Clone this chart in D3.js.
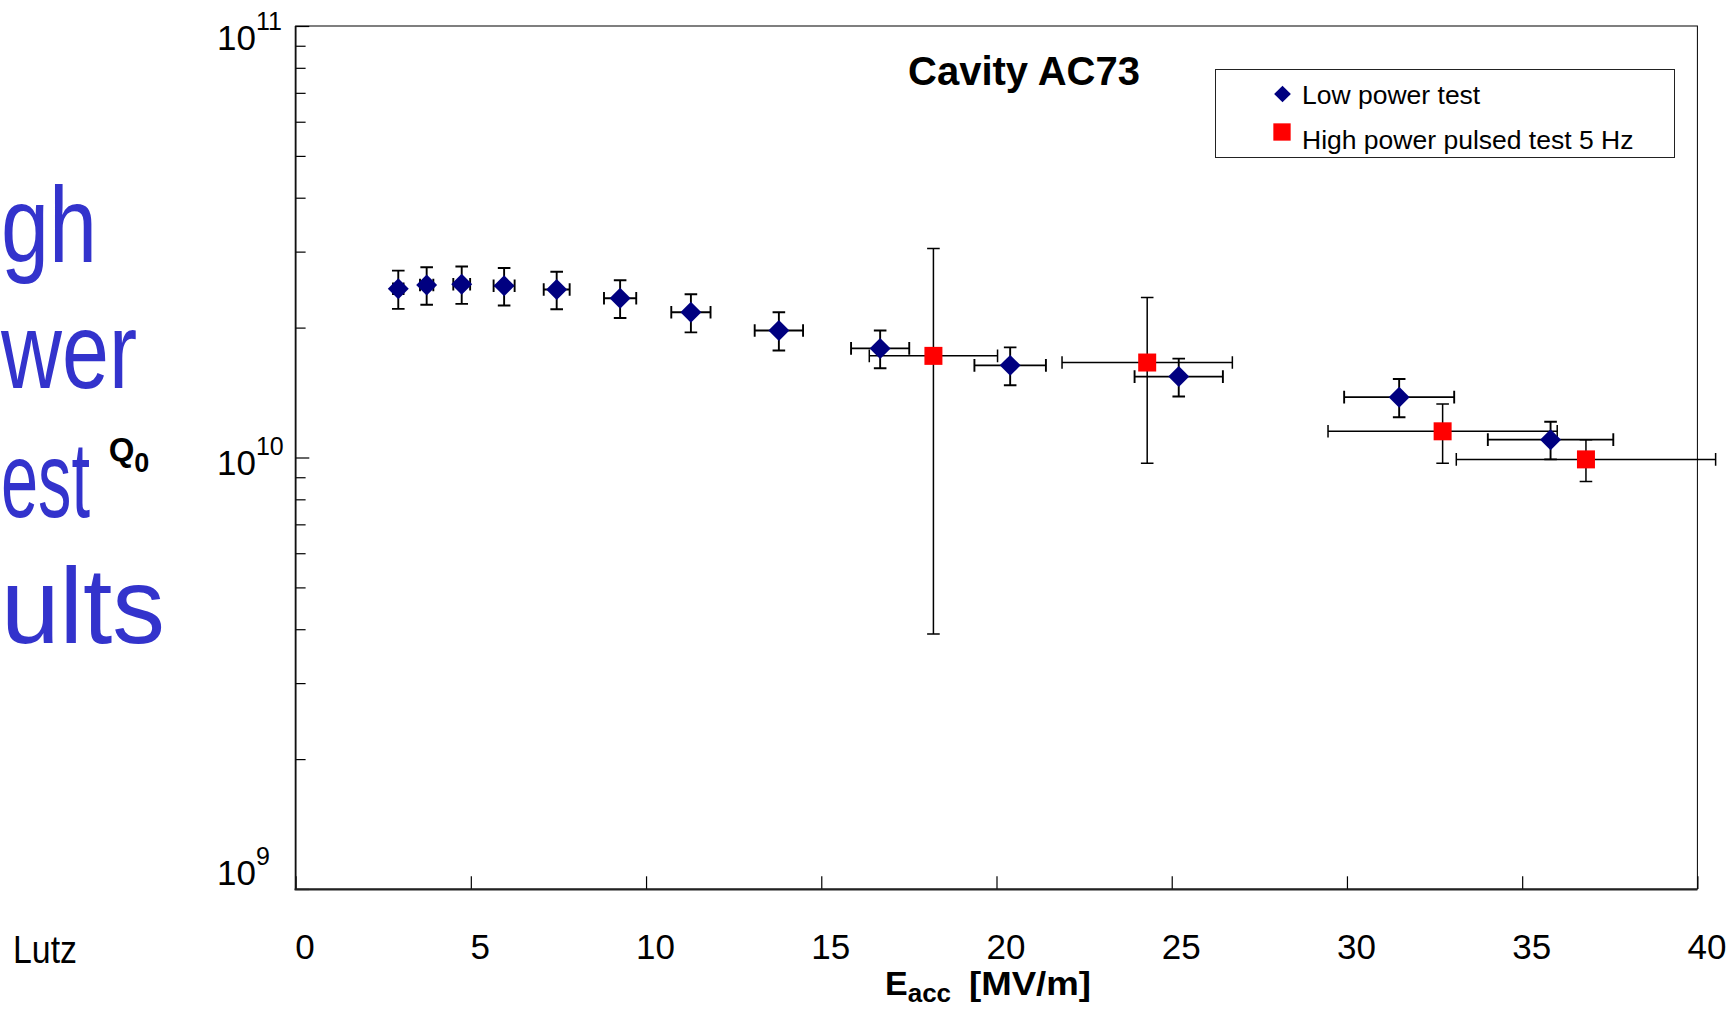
<!DOCTYPE html>
<html>
<head>
<meta charset="utf-8">
<script src="https://cdn.jsdelivr.net/npm/d3@7"></script>
<style>
  html, body { margin: 0; padding: 0; background: #fff; overflow: hidden; }
  svg { display: block; }
  text { font-family: "Liberation Sans", Arial, Helvetica, sans-serif; }
</style>
</head>
<body>
<svg id="chart" width="1729" height="1009"></svg>
<script>
// ---- data: accelerating gradient E_acc [MV/m] and Q0 (in units of 1e10) ----
const lowE     = [2.93, 3.74, 4.74, 5.95, 7.45, 9.26, 11.28, 13.79, 16.68, 20.39, 25.20, 31.49, 35.81];
const lowEerr  = [0.15, 0.19, 0.24, 0.30, 0.37, 0.46, 0.56, 0.69, 0.83, 1.02, 1.26, 1.57, 1.79];
const lowQ     = [2.46, 2.51, 2.52, 2.50, 2.45, 2.34, 2.17, 1.97, 1.79, 1.635, 1.54, 1.38, 1.10];
const lowQerr  = [0.25, 0.25, 0.25, 0.25, 0.245, 0.235, 0.22, 0.20, 0.18, 0.165, 0.155, 0.14, 0.11];

const highE    = [18.20, 24.30, 32.73, 36.82];
const highEerr = [1.83, 2.43, 3.27, 3.70];
const highQ    = [1.72, 1.66, 1.15, 0.99];
const highQerr = [1.33, 0.69, 0.18, 0.11];

const xTicks      = [0, 5, 10, 15, 20, 25, 30, 35, 40];
const yDecades    = [9, 10, 11];
const seriesNames = ["Low power test", "High power pulsed test 5 Hz"];
const panelTitle  = "Cavity AC73";
const slideWords  = ["gh", "wer", "est", "ults"];
const footerText  = "Lutz";

// ---- layout ----
const plot = { left: 295.6, right: 1697.4, top: 26, bottom: 889 };
const Q_UNIT = 1e10;
const x = d3.scaleLinear().domain([0, 40]).range([plot.left, plot.right]);
const y = d3.scaleLog().domain([1e9, 1e11]).range([plot.bottom, plot.top]);

const svg = d3.select("#chart");
svg.append("rect").attr("width", 1729).attr("height", 1009).attr("fill", "#fff");

// ---- slide text on the left edge (right-aligned, squeezed to stay on the page) ----
const wordRight = [97, 137, 90, 165];
const wordBase  = [262, 388, 517, 643];
const words = svg.append("g").selectAll("text").data(slideWords).join("text")
  .attr("x", (d, i) => wordRight[i])
  .attr("y", (d, i) => wordBase[i])
  .attr("text-anchor", "end")
  .attr("font-size", 108)
  .attr("fill", "#3333cc")
  .text(d => d);
words.each(function (d, i) {
  const w = this.getComputedTextLength();
  const room = wordRight[i] - 1;
  if (w > room) {
    d3.select(this).attr("text-anchor", "start").attr("x", 1)
      .attr("textLength", room).attr("lengthAdjust", "spacingAndGlyphs");
  }
});

svg.append("text")
  .attr("x", 13).attr("y", 963)
  .attr("font-size", 38)
  .attr("textLength", 64).attr("lengthAdjust", "spacingAndGlyphs")
  .attr("fill", "#000")
  .text(footerText);

// ---- plot frame ----
svg.append("rect")
  .attr("x", plot.left).attr("y", plot.top)
  .attr("width", plot.right - plot.left).attr("height", plot.bottom - plot.top)
  .attr("fill", "none").attr("stroke", "#000").attr("stroke-width", 1);

// ---- y axis (log, ticks pointing inward) ----
const yAxis = svg.append("g")
  .attr("transform", `translate(${plot.left},0)`)
  .call(d3.axisRight(y).tickValues(y.ticks()).tickSize(10).tickFormat(""));
yAxis.select(".domain").remove();
yAxis.selectAll(".tick line")
  .attr("stroke", "#000").attr("stroke-width", 1.2)
  .attr("x2", d => (Math.abs(Math.log10(d) - Math.round(Math.log10(d))) < 1e-9 ? 13.7 : 10));

// y tick labels: 10 with exponent, kept inside the axis extent
const yLab = svg.append("g").selectAll("text").data(yDecades).join("text")
  .attr("x", 217)
  .attr("y", d => Math.max(plot.top + 24, Math.min(plot.bottom - 4, y(Math.pow(10, d)) + 17)))
  .attr("fill", "#000");
yLab.append("tspan").attr("font-size", 35).text("10");
yLab.append("tspan").attr("font-size", 25).attr("dy", -20).text(d => d);

// y axis title Q0
const qLab = svg.append("text").attr("x", 108.7).attr("y", 461).attr("font-weight", "bold").attr("fill", "#000");
qLab.append("tspan").attr("font-size", 33).text("Q");
qLab.append("tspan").attr("font-size", 27).attr("dy", 10.7).text("0");

// ---- x axis ----
const xAxis = svg.append("g")
  .attr("transform", `translate(0,${plot.bottom})`)
  .call(d3.axisBottom(x).tickValues(xTicks).tickSize(-12.7).tickPadding(45.5).tickFormat(d3.format("d")));
xAxis.select(".domain").remove();
xAxis.selectAll(".tick line").attr("stroke", "#000").attr("stroke-width", 1.2);
xAxis.selectAll(".tick text")
  .attr("font-size", 35).attr("fill", "#000").attr("dx", 9)
  .attr("font-family", "\"Liberation Sans\", Arial, sans-serif");

// heavier left and bottom axis lines
svg.append("line").attr("x1", plot.left).attr("x2", plot.left)
  .attr("y1", plot.top).attr("y2", plot.bottom + 1)
  .attr("stroke", "#111").attr("stroke-width", 1.8);
svg.append("line").attr("x1", plot.left - 1).attr("x2", plot.right)
  .attr("y1", plot.bottom + 0.5).attr("y2", plot.bottom + 0.5)
  .attr("stroke", "#222").attr("stroke-width", 2.2);

// x axis title E_acc [MV/m]
const xTitle = svg.append("text").attr("x", 885).attr("y", 995).attr("font-weight", "bold").attr("fill", "#000");
xTitle.append("tspan").attr("font-size", 34).text("E");
xTitle.append("tspan").attr("font-size", 26).attr("dy", 7).text("acc");
xTitle.append("tspan").attr("font-size", 34).attr("x", 969).attr("dy", -7)
  .attr("textLength", 122).attr("lengthAdjust", "spacingAndGlyphs").text("[MV/m]");

// ---- panel title ----
svg.append("text")
  .attr("x", 1024).attr("y", 85)
  .attr("text-anchor", "middle")
  .attr("font-size", 40).attr("font-weight", "bold").attr("fill", "#000")
  .text(panelTitle);

// ---- data series ----
const low  = lowE.map((e, i) => ({ e, de: lowEerr[i], q: lowQ[i] * Q_UNIT, dq: lowQerr[i] * Q_UNIT }));
const high = highE.map((e, i) => ({ e, de: highEerr[i], q: highQ[i] * Q_UNIT, dq: highQerr[i] * Q_UNIT }));

function errorBars(data, width) {
  const cap = 6.3;
  const g = svg.append("g").attr("stroke", "#000").attr("stroke-width", width).attr("fill", "none");
  g.selectAll("path").data(data).join("path")
    .attr("d", d => {
      const cx = x(d.e), cy = y(d.q);
      const yt = y(d.q + d.dq), yb = y(d.q - d.dq);
      const xl = x(d.e - d.de), xr = x(d.e + d.de);
      return `M${cx},${yt}V${yb}` +
             `M${cx - cap},${yt}H${cx + cap}M${cx - cap},${yb}H${cx + cap}` +
             `M${xl},${cy}H${xr}` +
             `M${xl},${cy - cap}V${cy + cap}M${xr},${cy - cap}V${cy + cap}`;
    });
}
errorBars(low, 1.9);
errorBars(high, 1.5);

const diamond = d3.symbol().type(d3.symbolSquare).size(220);
const square  = d3.symbol().type(d3.symbolSquare).size(324);

svg.append("g").selectAll("path").data(low).join("path")
  .attr("d", diamond)
  .attr("transform", d => `translate(${x(d.e)},${y(d.q)}) rotate(45)`)
  .attr("fill", "#000080");

svg.append("g").selectAll("path").data(high).join("path")
  .attr("d", square)
  .attr("transform", d => `translate(${x(d.e)},${y(d.q)})`)
  .attr("fill", "#ff0000");

// ---- legend ----
const legend = svg.append("g");
legend.append("rect")
  .attr("x", 1215.5).attr("y", 69.5).attr("width", 459).attr("height", 88)
  .attr("fill", "#fff").attr("stroke", "#222").attr("stroke-width", 1);
legend.append("path")
  .attr("d", d3.symbol().type(d3.symbolSquare).size(140)())
  .attr("transform", "translate(1282.5,94) rotate(45)")
  .attr("fill", "#000080");
legend.append("path")
  .attr("d", d3.symbol().type(d3.symbolSquare).size(300)())
  .attr("transform", "translate(1282,132)")
  .attr("fill", "#ff0000");
legend.selectAll("text.item").data(seriesNames).join("text")
  .attr("class", "item")
  .attr("x", 1302)
  .attr("y", (d, i) => [103.5, 148.5][i])
  .attr("font-size", 26.5).attr("fill", "#000")
  .text(d => d);
</script>
</body>
</html>
